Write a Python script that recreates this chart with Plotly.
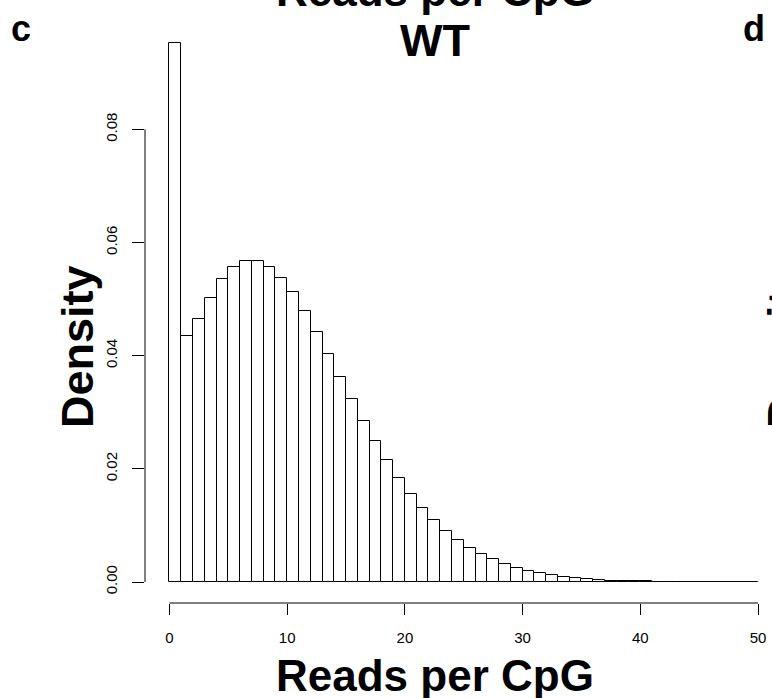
import plotly.graph_objects as go

# ---- data ----
bin_left = list(range(0, 50))
density = [0.0952, 0.0434, 0.0465, 0.0502, 0.0535, 0.0557, 0.0567, 0.0568, 0.0557, 0.0538,
           0.0512, 0.0479, 0.0442, 0.0403, 0.0363, 0.0324, 0.0285, 0.0249, 0.0215, 0.0183,
           0.0156, 0.0131, 0.0110, 0.0090, 0.0074, 0.0061, 0.0050, 0.0040, 0.0032, 0.0025,
           0.0019, 0.0016, 0.0012, 0.00095, 0.00066, 0.00048, 0.00035, 0.00025, 0.00018, 0.00013,
           0.00010, 0.00007, 0.00005, 0.00004, 0.00003, 0.00002, 0.000015, 0.00001, 0.00001, 0.000005]
x_ticks = [0, 10, 20, 30, 40, 50]
y_ticks = [0.00, 0.02, 0.04, 0.06, 0.08]
y_tick_text = ["0.00", "0.02", "0.04", "0.06", "0.08"]
title_top = "Reads per CpG"
subtitle = "WT"
x_title = "Reads per CpG"
y_title = "Density"
panel_c = "c"
panel_d = "d"

FONT = "Liberation Sans, Arial, Helvetica, sans-serif"

W, H = 772, 698
L, R, T, B = 145, 14, 40, 95
pw, ph = W - L - R, H - T - B

def px(x):  # pixel -> paper x
    return (x - L) / pw

def py(y):  # pixel -> paper y
    return (H - B - y) / ph

fig = go.Figure()
fig.add_trace(go.Bar(
    x=bin_left, y=density, width=1, offset=0,
    marker=dict(color="white", line=dict(color="black", width=1)),
    hoverinfo="x+y",
))

fig.update_layout(
    width=W, height=H,
    margin=dict(l=L, r=R, t=T, b=B, pad=0),
    paper_bgcolor="white", plot_bgcolor="white",
    showlegend=False, bargap=0,
    font=dict(family=FONT, color="black"),
    xaxis=dict(range=[-2.08, 50], tickvals=x_ticks, ticks="outside", ticklen=11,
               tickwidth=1, tickcolor="black", showgrid=False, zeroline=False,
               showline=False, tickfont=dict(size=15, family=FONT, color="black"),
               ticklabelstandoff=10, automargin=False),
    yaxis=dict(range=[-0.00371, 0.0958], tickvals=y_ticks, ticktext=y_tick_text,
               tickangle=-90, ticks="outside", ticklen=12, tickwidth=1, tickcolor="black",
               showgrid=False, zeroline=False, showline=False,
               tickfont=dict(size=15, family=FONT, color="black"),
               ticklabelstandoff=9, automargin=False),
)

# R-style axis lines spanning first to last tick
fig.add_shape(type="line", xref="x", yref="paper", x0=x_ticks[0], x1=x_ticks[-1], y0=0, y1=0,
              line=dict(color="black", width=1))
fig.add_shape(type="line", xref="paper", yref="y", x0=0, x1=0, y0=y_ticks[0], y1=y_ticks[-1],
              line=dict(color="black", width=1))

def ann(text, x, y, size, angle=0):
    fig.add_annotation(text="<b>%s</b>" % text, x=px(x), y=py(y), xref="paper", yref="paper",
                       xanchor="center", yanchor="middle", showarrow=False, textangle=angle,
                       font=dict(size=size, family=FONT, color="black"))

ann(title_top, 435, -9, 44)
ann(subtitle, 435, 40, 45)
ann(x_title, 435, 675, 44)
ann(y_title, 77, 347, 45, -90)
ann(y_title, 783, 347, 45, -90)
ann(panel_c, 21, 29, 36)
ann(panel_d, 754, 29, 36)

fig.write_html("out.html", config={"displayModeBar": False},
               post_script="document.body.style.margin='0';document.body.style.overflow='hidden';")
